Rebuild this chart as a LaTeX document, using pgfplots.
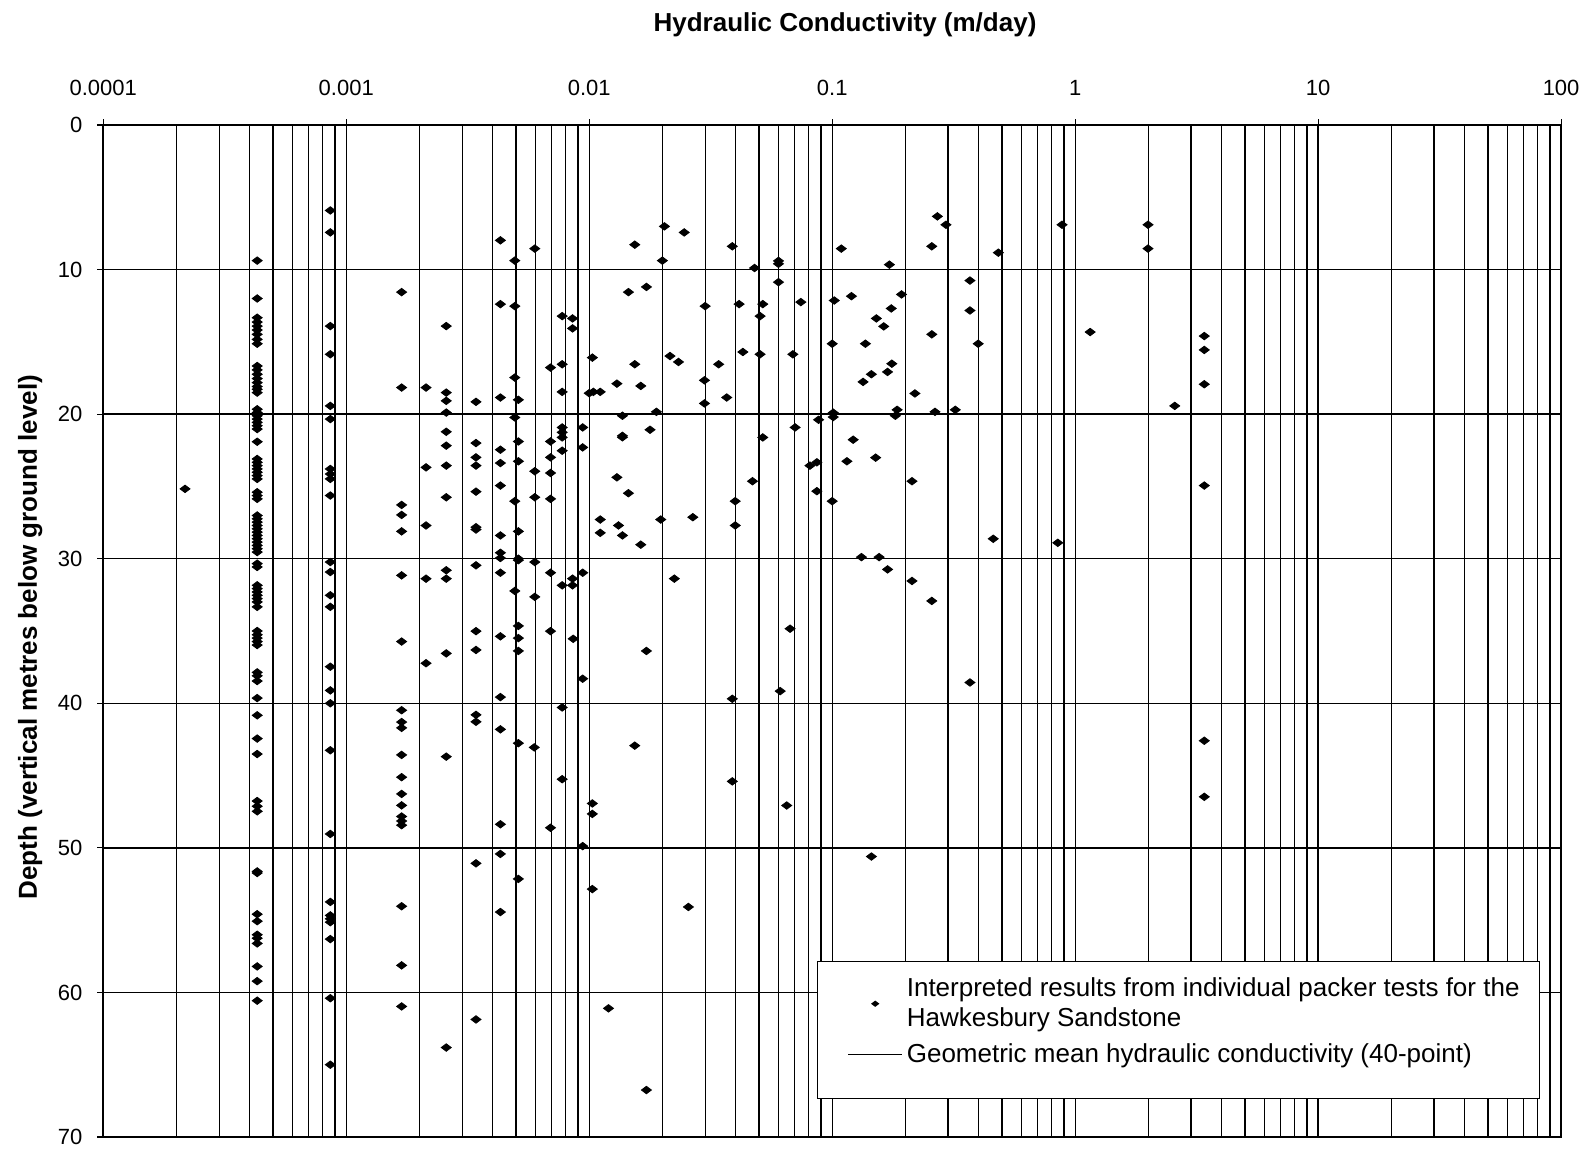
\documentclass[border=0pt]{standalone}
\usepackage{pgfplots}
\usepackage{pgfplotstable}
\pgfplotsset{compat=1.18}
\usepackage{fontspec}
\setmainfont{Liberation Sans}

\pgfplotsset{
  dotlegend/.style={legend image code/.code={\path (-7pt,0pt) (27pt,0pt); \draw[##1, mark size=1.6pt] plot coordinates {(13.5pt,0pt)};}},
  linelegend/.style={legend image code/.code={\path (-7pt,0pt); \draw[##1] (0pt,0pt) -- (27pt,0pt);}},
}

% packer test results: hydraulic conductivity (m/day), depth (m)
\pgfplotstableread{
K depth
0.000217 25.17
0.00043 9.38
0.00043 12.0
0.00043 13.33
0.00043 13.63
0.00043 13.91
0.00043 14.18
0.00043 14.48
0.00043 14.83
0.00043 15.13
0.00043 16.67
0.00043 16.94
0.00043 17.24
0.00043 17.54
0.00043 17.82
0.00043 18.09
0.00043 18.28
0.00043 18.51
0.00043 19.66
0.00043 19.89
0.00043 20.11
0.00043 20.34
0.00043 20.57
0.00043 20.8
0.00043 21.03
0.00043 21.91
0.00043 23.1
0.00043 23.33
0.00043 23.56
0.00043 23.79
0.00043 24.02
0.00043 24.25
0.00043 24.48
0.00043 25.4
0.00043 25.63
0.00043 25.86
0.00043 27.01
0.00043 27.24
0.00043 27.47
0.00043 27.7
0.00043 27.93
0.00043 28.16
0.00043 28.39
0.00043 28.62
0.00043 28.85
0.00043 29.08
0.00043 29.31
0.00043 29.54
0.00043 30.34
0.00043 30.57
0.00043 31.84
0.00043 32.07
0.00043 32.3
0.00043 32.53
0.00043 32.76
0.00043 32.99
0.00043 33.33
0.00043 35.0
0.00043 35.26
0.00043 35.49
0.00043 35.73
0.00043 35.97
0.00043 37.86
0.00043 38.1
0.00043 38.46
0.00043 39.64
0.00043 40.83
0.00043 42.44
0.00043 43.51
0.00043 46.76
0.00043 47.12
0.00043 47.47
0.00043 51.63
0.00043 51.74
0.00043 54.59
0.00043 55.07
0.00043 56.01
0.00043 56.25
0.00043 56.61
0.00043 58.2
0.00043 59.22
0.00043 60.57
0.00086 5.91
0.00086 7.43
0.00086 13.91
0.00086 15.86
0.00086 19.43
0.00086 20.34
0.00086 23.79
0.00086 24.14
0.00086 24.48
0.00086 25.63
0.00086 30.23
0.00086 30.92
0.00086 32.53
0.00086 33.33
0.00086 37.47
0.00086 39.11
0.00086 40.0
0.00086 43.25
0.00086 49.04
0.00086 53.74
0.00086 54.67
0.00086 54.91
0.00086 55.14
0.00086 56.31
0.00086 60.4
0.00086 65.0
0.00169 11.56
0.00169 18.16
0.00169 26.28
0.00169 26.97
0.00169 28.11
0.00169 31.15
0.00169 35.73
0.00169 40.48
0.00169 41.3
0.00169 41.7
0.00169 43.57
0.00169 45.11
0.00169 46.27
0.00169 47.06
0.00169 47.83
0.00169 48.14
0.00169 48.43
0.00169 54.04
0.00169 58.13
0.00169 60.97
0.00213 18.16
0.00213 23.68
0.00213 27.7
0.00213 31.38
0.00213 37.23
0.00258 13.91
0.00258 18.51
0.00258 19.08
0.00258 19.89
0.00258 21.22
0.00258 22.18
0.00258 23.56
0.00258 25.75
0.00258 30.8
0.00258 31.38
0.00258 36.55
0.00258 43.69
0.00258 63.81
0.00342 19.15
0.00342 22.0
0.00342 22.99
0.00342 23.56
0.00342 25.36
0.00342 27.82
0.00342 27.98
0.00342 30.46
0.00342 35.01
0.00342 36.31
0.00342 40.8
0.00342 41.28
0.00342 51.07
0.00342 61.87
0.00431 7.98
0.00431 12.39
0.00431 18.85
0.00431 22.46
0.00431 23.38
0.00431 24.94
0.00431 28.39
0.00431 29.59
0.00431 29.95
0.00431 30.97
0.00431 35.37
0.00431 39.57
0.00431 41.8
0.00431 48.37
0.00431 50.42
0.00431 54.44
0.00494 9.38
0.00494 12.53
0.00494 17.47
0.00494 20.23
0.00494 26.02
0.00494 32.23
0.00511 19.01
0.00511 21.89
0.00511 23.26
0.00511 28.11
0.00511 30.0
0.00511 30.1
0.00511 34.65
0.00511 35.49
0.00511 36.38
0.00511 42.76
0.00511 52.15
0.00597 8.55
0.00597 23.95
0.00597 25.75
0.00597 30.23
0.00597 32.64
0.00594 43.05
0.00693 16.78
0.00693 21.89
0.00693 22.99
0.00693 24.07
0.00693 25.86
0.00693 30.97
0.00693 35.01
0.00693 48.61
0.00774 13.22
0.00774 16.55
0.00774 18.46
0.00774 20.92
0.00774 21.26
0.00774 21.61
0.00774 22.53
0.00774 31.84
0.00774 40.29
0.00774 45.25
0.00854 13.38
0.00854 14.07
0.00854 31.38
0.00854 31.84
0.00859 35.54
0.0094 20.92
0.0094 22.3
0.0094 30.97
0.0094 38.3
0.0094 49.88
0.0100 18.55
0.0103 16.09
0.0103 46.93
0.0103 47.65
0.0103 52.85
0.0104 18.46
0.0111 18.46
0.0111 27.29
0.0111 28.21
0.0120 61.1
0.0130 17.89
0.0130 24.37
0.0132 27.7
0.0137 20.11
0.0137 21.5
0.0137 21.6
0.0137 28.39
0.0145 11.56
0.0145 25.47
0.0154 8.28
0.0154 16.55
0.0154 42.93
0.0163 18.05
0.0163 29.03
0.0172 11.2
0.0172 36.38
0.0172 66.75
0.0178 21.08
0.0189 19.84
0.0197 27.29
0.0200 9.38
0.0204 7.01
0.0215 15.98
0.0224 31.38
0.0233 16.39
0.0246 7.43
0.0256 54.09
0.0267 27.13
0.0298 17.66
0.0298 19.26
0.0300 12.53
0.0341 16.55
0.0368 18.85
0.0388 8.39
0.0388 39.69
0.0388 45.4
0.0399 26.02
0.0399 27.7
0.0414 12.39
0.0429 15.7
0.0470 24.64
0.0479 9.89
0.0505 13.22
0.0505 15.86
0.0518 12.39
0.0518 21.61
0.0601 9.4
0.0601 9.6
0.0601 10.87
0.0611 39.16
0.0650 47.07
0.0671 34.84
0.0689 15.86
0.0704 20.92
0.0743 12.25
0.0810 23.56
0.0865 23.33
0.0865 25.33
0.0879 20.39
0.100 15.13
0.100 26.02
0.101 19.9
0.101 20.2
0.102 12.14
0.109 8.55
0.115 23.26
0.120 11.84
0.122 21.77
0.132 29.89
0.134 17.77
0.137 15.13
0.145 17.24
0.145 50.6
0.151 23.01
0.152 13.38
0.156 29.89
0.163 13.93
0.169 17.08
0.169 30.74
0.172 9.66
0.175 12.69
0.176 16.51
0.182 20.11
0.185 19.7
0.193 11.72
0.213 24.64
0.213 31.54
0.219 18.57
0.257 8.39
0.257 14.48
0.257 32.92
0.265 19.84
0.271 6.32
0.294 6.9
0.321 19.7
0.369 10.76
0.369 12.83
0.369 38.56
0.399 15.13
0.460 28.62
0.483 8.83
0.848 28.9
0.883 6.9
1.153 14.32
1.995 6.9
1.995 8.55
2.57 19.43
3.40 14.6
3.40 15.56
3.40 17.93
3.40 24.94
3.40 42.59
3.40 46.47
}\packertests

\begin{document}
\begin{tikzpicture}
\useasboundingbox (0,0) rectangle (795pt,575.5pt);
\begin{axis}[
    scale only axis,
    width=728.9pt, height=506pt,
    at={(51.65pt,7pt)}, anchor=south west,
    xmode=log, xmin=1e-4, xmax=100,
    ymin=0, ymax=70, y dir=reverse,
    xtick={1e-4,1e-3,1e-2,1e-1,1,10,100},
    xticklabels={0.0001,0.001,0.01,0.1,1,10,100},
    ytick={0,10,...,70},
    xtick pos=right, xticklabel pos=right, ytick pos=left,
    tick align=outside, major tick length=3pt, minor tick length=0pt,
    xmajorgrids, xminorgrids, ymajorgrids,
    major grid style={black, line width=0.65pt},
    minor grid style={black, line width=0.65pt},
    axis line style={line width=0.9pt},
    tick style={black, line width=0.6pt},
    /pgf/number format/assume math mode=true,
    ticklabel style={font=\fontsize{11}{13}\selectfont},
    xticklabel style={yshift=8pt},
    yticklabel style={xshift=-4pt},
    xlabel={Hydraulic Conductivity (m/day)},
    ylabel={Depth (vertical metres below ground level)},
    every axis x label/.style={at={(axis description cs:0.5088,1.0988)}, anchor=center, font=\fontsize{13}{15}\selectfont\bfseries},
    every axis y label/.style={at={(axis description cs:-0.0502,0.494)}, anchor=center, rotate=90, font=\fontsize{13}{15}\selectfont\bfseries},
    legend style={at={(axis description cs:0.4896,0.1739)}, anchor=north west,
        draw=black, line width=0.6pt, fill=white,
        font=\fontsize{13}{15.2}\selectfont,
        cells={anchor=west, align=left},
        inner xsep=8pt, inner ysep=6pt, row sep=3pt},
]
\addplot[only marks, mark=diamond*, mark size=2.5pt,
    mark options={rotate=90, fill=black, draw=black}, dotlegend]
    table[x=K, y=depth] {\packertests};
\addlegendentry{Interpreted results from individual packer tests for the\\Hawkesbury Sandstone}
\addlegendimage{black, line width=0.6pt, linelegend}
\addlegendentry{Geometric mean hydraulic conductivity (40-point)}
\addlegendimage{empty legend}
\addlegendentry{\rule[-8pt]{0pt}{8pt}}
\end{axis}
\end{tikzpicture}
\end{document}
